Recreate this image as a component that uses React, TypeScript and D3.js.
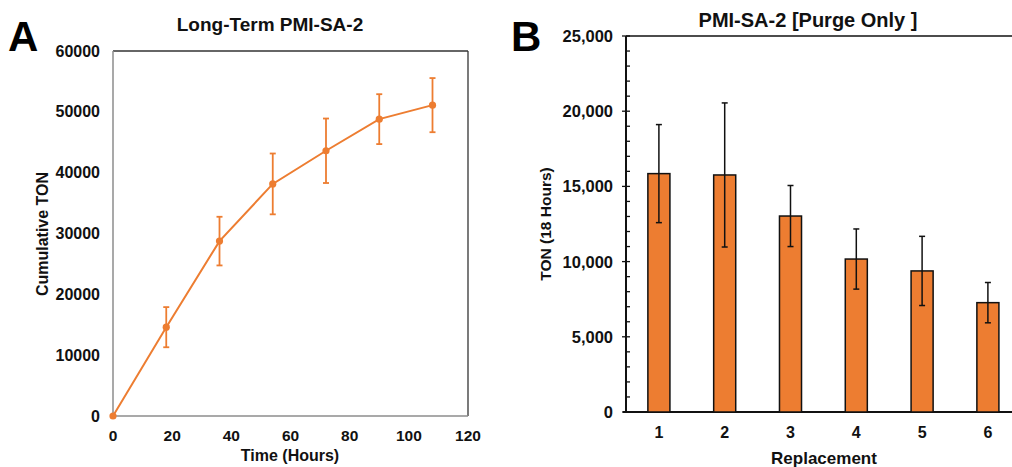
import React from "react";
import * as d3 from "d3";

const timeHours = [0, 18, 36, 54, 72, 90, 108];
const cumulativeTON = [0, 14600, 28750, 38150, 43600, 48800, 51100];
const cumulativeErr = [0, 3300, 4000, 5000, 5300, 4100, 4450];
const xTicksA = [0, 20, 40, 60, 80, 100, 120];
const yTicksA = [0, 10000, 20000, 30000, 40000, 50000, 60000];

const replacements = ["1", "2", "3", "4", "5", "6"];
const ton18 = [15850, 15760, 13030, 10170, 9380, 7270];
const ton18Err = [3260, 4790, 2030, 2000, 2300, 1340];
const yTicksB = [0, 5000, 10000, 15000, 20000, 25000];
const yMinorB = d3.range(0, 25001, 1000);

const ORANGE = "#ED7D31";
const FONT = "'Liberation Sans', Arial, sans-serif";

export default function App() {
  // Panel A
  const ax = d3.scaleLinear().domain([0, 120]).range([113, 468]);
  const ay = d3.scaleLinear().domain([0, 60000]).range([416, 51]);
  const line = d3
    .line<number>()
    .x((_, i) => ax(timeHours[i]))
    .y((d) => ay(d));

  // Panel B
  const step = 65.8;
  const bx = d3
    .scaleBand<string>()
    .domain(replacements)
    .range([626, 626 + step * replacements.length])
    .paddingInner(0.665)
    .paddingOuter(0.3325);
  const by = d3.scaleLinear().domain([0, 25000]).range([412, 36]);
  const fmt = d3.format(",");

  return (
    <svg
      width={1012}
      height={467}
      style={{ position: "absolute", left: 0, top: 0, background: "#fff" }}
      fontFamily={FONT}
      fontWeight="bold"
    >
      {/* Panel A */}
      <text x={8} y={51} fontSize={42} fill="#000">A</text>
      <text x={270} y={31} fontSize={19} textAnchor="middle" fill="#111">
        Long-Term PMI-SA-2
      </text>
      <line x1={ax(0)} x2={ax(120)} y1={ay(60000)} y2={ay(60000)} stroke="#333" strokeWidth={1.3} />
      <line x1={ax(120)} x2={ax(120)} y1={ay(60000)} y2={ay(0)} stroke="#333" strokeWidth={1.3} />
      <line x1={ax(0)} x2={ax(0)} y1={ay(60000)} y2={ay(0)} stroke="#8c8c8c" strokeWidth={1.5} />
      <line x1={ax(0)} x2={ax(120)} y1={ay(0)} y2={ay(0)} stroke="#8c8c8c" strokeWidth={1.5} />
      {yTicksA.map((t) => (
        <text key={t} x={100} y={ay(t) + 5.5} fontSize={16} textAnchor="end" fill="#111">
          {t}
        </text>
      ))}
      {xTicksA.map((t) => (
        <text key={t} x={ax(t)} y={440.5} fontSize={15.5} textAnchor="middle" fill="#111">
          {t}
        </text>
      ))}
      <text x={290} y={461} fontSize={16} textAnchor="middle" fill="#111">
        Time (Hours)
      </text>
      <text
        transform={`translate(47.5,${234}) rotate(-90)`}
        fontSize={16}
        textAnchor="middle"
        fill="#111"
      >
        Cumulative TON
      </text>
      <path d={line(cumulativeTON) || ""} fill="none" stroke={ORANGE} strokeWidth={2} />
      {cumulativeTON.map((v, i) => {
        const x = ax(timeHours[i]);
        const e = cumulativeErr[i];
        return (
          <g key={i}>
            {e > 0 && (
              <g stroke={ORANGE} strokeWidth={1.8}>
                <line x1={x} x2={x} y1={ay(v + e)} y2={ay(v - e)} />
                <line x1={x - 3} x2={x + 3} y1={ay(v + e)} y2={ay(v + e)} />
                <line x1={x - 3} x2={x + 3} y1={ay(v - e)} y2={ay(v - e)} />
              </g>
            )}
            <circle cx={x} cy={ay(v)} r={3.6} fill={ORANGE} />
          </g>
        );
      })}

      {/* Panel B */}
      <text x={511} y={51} fontSize={42} fill="#000">B</text>
      <text x={808} y={27} fontSize={20} textAnchor="middle" fill="#111">
        PMI-SA-2 [Purge Only ]
      </text>
      <line x1={626} x2={1012} y1={by(25000)} y2={by(25000)} stroke="#111" strokeWidth={1.5} />
      <line x1={623} x2={1012} y1={by(0)} y2={by(0)} stroke="#111" strokeWidth={2} />
      <line x1={626} x2={626} y1={by(25000)} y2={by(0)} stroke="#111" strokeWidth={2} />
      {yMinorB.map((t) => (
        <line
          key={t}
          x1={t % 5000 === 0 ? 622 : 626}
          x2={630}
          y1={by(t)}
          y2={by(t)}
          stroke="#111"
          strokeWidth={1.3}
        />
      ))}
      {yTicksB.map((t) => (
        <text key={t} x={613} y={by(t) + 6} fontSize={16.5} textAnchor="end" fill="#111">
          {fmt(t)}
        </text>
      ))}
      {ton18.map((v, i) => {
        const c = replacements[i];
        const x0 = bx(c)!;
        const w = bx.bandwidth();
        const cx = x0 + w / 2;
        const e = ton18Err[i];
        return (
          <g key={c}>
            <rect
              x={x0}
              y={by(v)}
              width={w}
              height={by(0) - by(v)}
              fill={ORANGE}
              stroke="#111"
              strokeWidth={1.5}
            />
            <g stroke="#111" strokeWidth={1.5}>
              <line x1={cx} x2={cx} y1={by(v + e)} y2={by(v - e)} />
              <line x1={cx - 3} x2={cx + 3} y1={by(v + e)} y2={by(v + e)} />
              <line x1={cx - 3} x2={cx + 3} y1={by(v - e)} y2={by(v - e)} />
            </g>
            <text x={cx} y={438} fontSize={16} textAnchor="middle" fill="#111">
              {c}
            </text>
          </g>
        );
      })}
      <text x={824} y={464} fontSize={17} textAnchor="middle" fill="#111">
        Replacement
      </text>
      <text
        transform={`translate(551,${224}) rotate(-90)`}
        fontSize={15.5}
        textAnchor="middle"
        fill="#111"
      >
        TON (18 Hours)
      </text>
    </svg>
  );
}
